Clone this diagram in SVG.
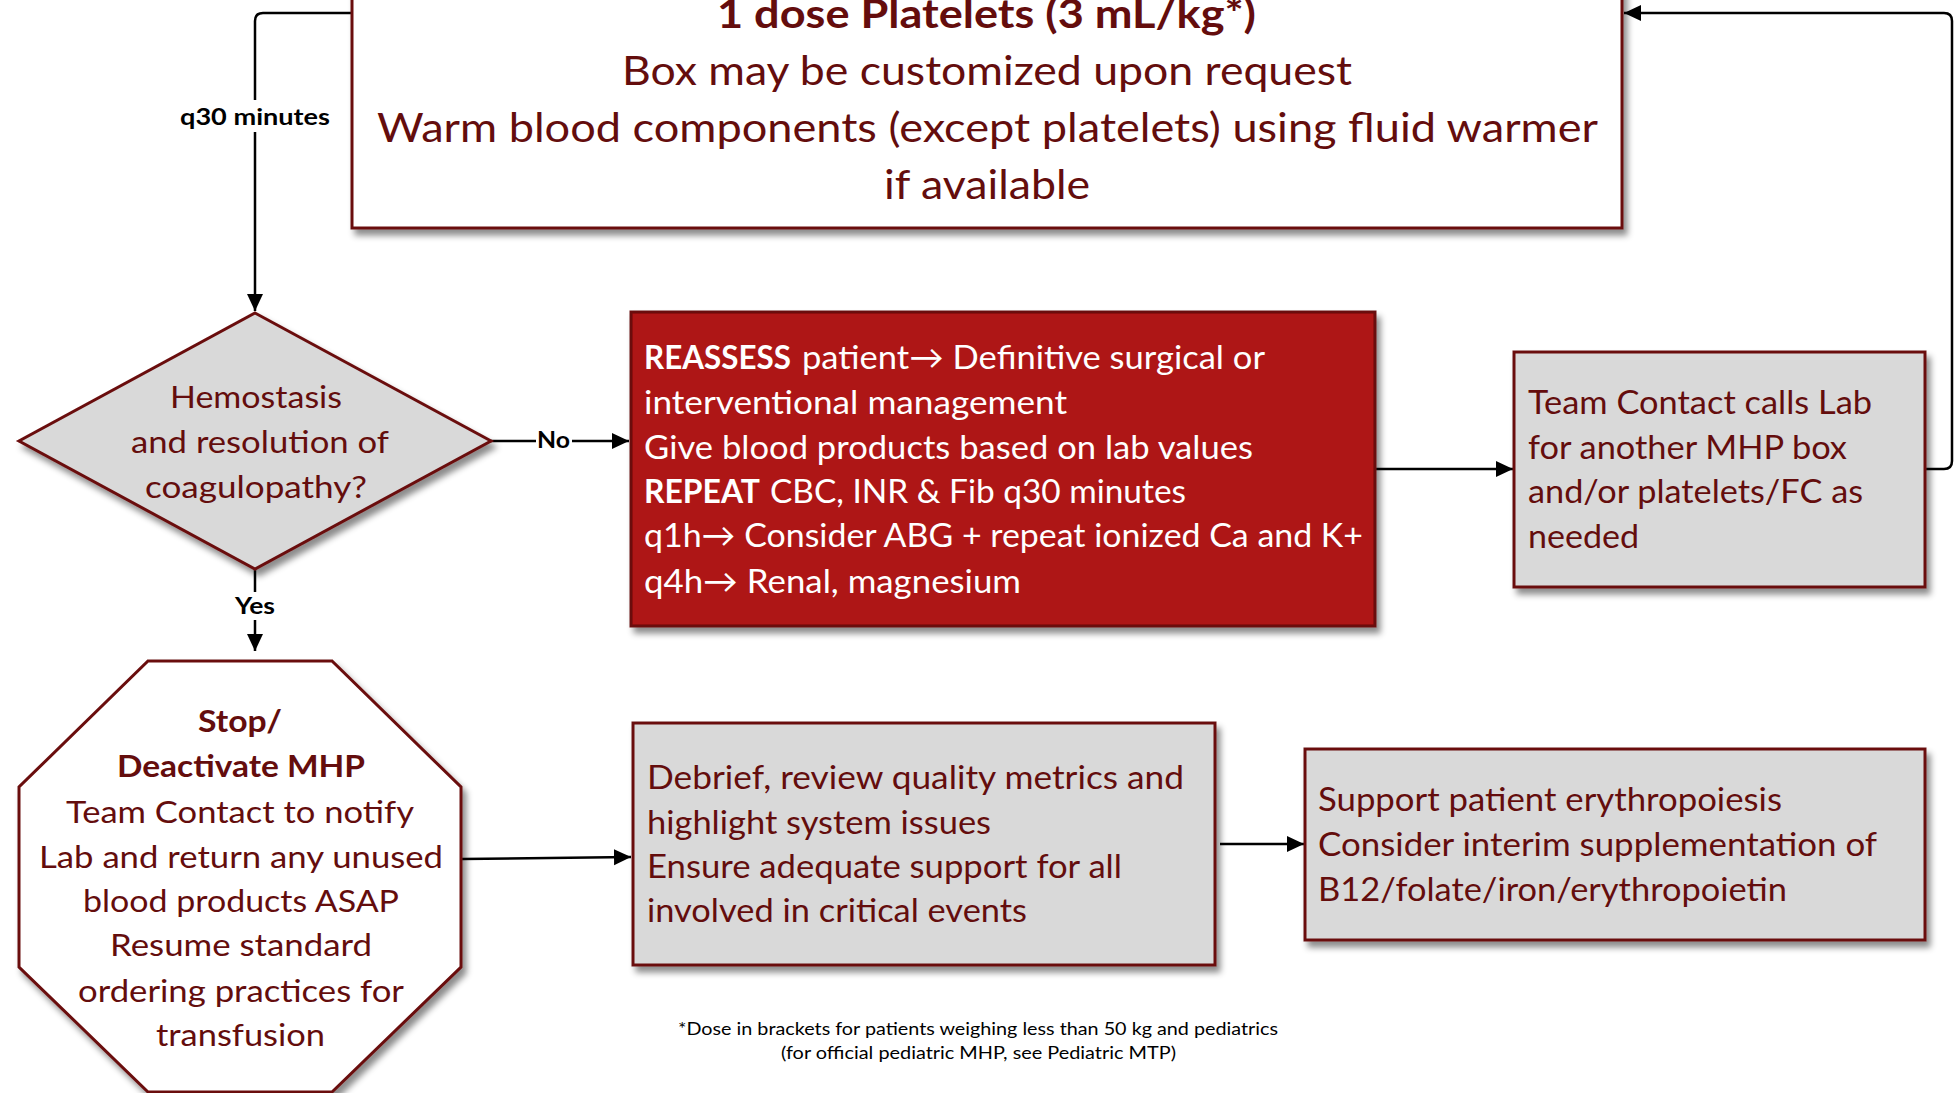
<svg xmlns="http://www.w3.org/2000/svg" width="1958" height="1093" viewBox="0 0 1958 1093">
<style>
.bx{stroke:#6a0f0f;stroke-width:3}
.t{font-family:Lato,"Open Sans","Liberation Sans",sans-serif;fill:#640d0d;font-size:33px}
.tt{font-size:40px}
.td{font-size:31px}
.w{fill:#ffffff}
.b{font-weight:bold}
.lbl{font-family:Lato,"Open Sans","Liberation Sans",sans-serif;font-weight:bold;fill:#000;font-size:23px}
.fn{font-family:Lato,"Open Sans","Liberation Sans",sans-serif;fill:#000;font-size:17px}
.c{fill:none;stroke:#000;stroke-width:2.5}
</style>
<defs>
<filter id="sh" x="-10%" y="-10%" width="130%" height="130%">
<feDropShadow dx="4" dy="6" stdDeviation="3" flood-color="#000" flood-opacity="0.45"/>
</filter>
<marker id="ah" markerUnits="userSpaceOnUse" markerWidth="18" markerHeight="18" refX="17" refY="8" orient="auto">
<path d="M0,0 L17,8 L0,16 z" fill="#000"/>
</marker>
</defs>
<rect width="1958" height="1093" fill="#fff"/>

<g id="connectors">
<path class="c" d="M352,13 H263 Q255,13 255,21 V311" marker-end="url(#ah)"/>
<path class="c" d="M491,441 H629" marker-end="url(#ah)"/>
<path class="c" d="M255,569 V651" marker-end="url(#ah)"/>
<path class="c" d="M1375,469 H1513" marker-end="url(#ah)"/>
<path class="c" d="M1925,469 H1944 Q1952,469 1952,461 V21 Q1952,13 1944,13 H1624" marker-end="url(#ah)"/>
<path class="c" d="M462,859 L631,857" marker-end="url(#ah)"/>
<path class="c" d="M1220,844 H1304" marker-end="url(#ah)"/>
<rect x="178" y="100" width="154" height="32" fill="#fff"/>
<text class="lbl" x="180" y="125" textLength="150" lengthAdjust="spacingAndGlyphs">q30 minutes</text>
<rect x="536" y="428" width="36" height="26" fill="#fff"/>
<text class="lbl" x="537" y="448" textLength="33" lengthAdjust="spacingAndGlyphs">No</text>
<rect x="233" y="592" width="44" height="28" fill="#fff"/>
<text class="lbl" x="235" y="614" textLength="40" lengthAdjust="spacingAndGlyphs">Yes</text>
</g>

<g id="node-top">
<rect class="bx" x="352" y="-40" width="1270" height="268" fill="#fff" filter="url(#sh)"/>
<text class="t tt b" x="717" y="28" textLength="539" lengthAdjust="spacingAndGlyphs">1 dose Platelets (3 mL/kg*)</text>
<text class="t tt" x="622" y="85" textLength="730" lengthAdjust="spacingAndGlyphs">Box may be customized upon request</text>
<text class="t tt" x="377" y="142" textLength="1221" lengthAdjust="spacingAndGlyphs">Warm blood components (except platelets) using fluid warmer</text>
<text class="t tt" x="884" y="199" textLength="206" lengthAdjust="spacingAndGlyphs">if available</text>
</g>

<g id="node-decision">
<polygon class="bx" points="255,313 491,441 255,569 19,441" fill="#d9d9d9" filter="url(#sh)"/>
<text class="t td" x="170" y="408" textLength="172" lengthAdjust="spacingAndGlyphs">Hemostasis</text>
<text class="t td" x="131" y="453" textLength="258" lengthAdjust="spacingAndGlyphs">and resolution of</text>
<text class="t td" x="145" y="498" textLength="222" lengthAdjust="spacingAndGlyphs">coagulopathy?</text>
</g>

<g id="node-reassess">
<rect class="bx" x="631" y="312" width="744" height="314" fill="#ae1515" filter="url(#sh)"/>
<text class="t w b" x="644" y="369" textLength="147" lengthAdjust="spacingAndGlyphs">REASSESS</text>
<text class="t w" x="802" y="369" textLength="463" lengthAdjust="spacingAndGlyphs">patient→ Definitive surgical or</text>
<text class="t w" x="644" y="414" textLength="423" lengthAdjust="spacingAndGlyphs">interventional management</text>
<text class="t w" x="644" y="459" textLength="609" lengthAdjust="spacingAndGlyphs">Give blood products based on lab values</text>
<text class="t w b" x="644" y="503" textLength="116" lengthAdjust="spacingAndGlyphs">REPEAT</text>
<text class="t w" x="770" y="503" textLength="416" lengthAdjust="spacingAndGlyphs">CBC, INR &amp; Fib q30 minutes</text>
<text class="t w" x="644" y="547" textLength="719" lengthAdjust="spacingAndGlyphs">q1h→ Consider ABG + repeat ionized Ca and K+</text>
<text class="t w" x="644" y="593" textLength="377" lengthAdjust="spacingAndGlyphs">q4h→ Renal, magnesium</text>
</g>

<g id="node-teamcontact">
<rect class="bx" x="1514" y="352" width="411" height="235" fill="#d9d9d9" filter="url(#sh)"/>
<text class="t" x="1528" y="414" textLength="344" lengthAdjust="spacingAndGlyphs">Team Contact calls Lab</text>
<text class="t" x="1528" y="459" textLength="319" lengthAdjust="spacingAndGlyphs">for another MHP box</text>
<text class="t" x="1528" y="503" textLength="335" lengthAdjust="spacingAndGlyphs">and/or platelets/FC as</text>
<text class="t" x="1528" y="548" textLength="111" lengthAdjust="spacingAndGlyphs">needed</text>
</g>

<g id="node-stop">
<polygon class="bx" points="148,661 332,661 461,787 461,967 332,1092 148,1092 19,967 19,787" fill="#fff" filter="url(#sh)"/>
<text class="t td b" x="198" y="732" textLength="84" lengthAdjust="spacingAndGlyphs">Stop/</text>
<text class="t td b" x="117" y="777" textLength="248" lengthAdjust="spacingAndGlyphs">Deactivate MHP</text>
<text class="t td" x="66" y="823" textLength="348" lengthAdjust="spacingAndGlyphs">Team Contact to notify</text>
<text class="t td" x="39" y="868" textLength="404" lengthAdjust="spacingAndGlyphs">Lab and return any unused</text>
<text class="t td" x="83" y="912" textLength="316" lengthAdjust="spacingAndGlyphs">blood products ASAP</text>
<text class="t td" x="110" y="956" textLength="262" lengthAdjust="spacingAndGlyphs">Resume standard</text>
<text class="t td" x="78" y="1002" textLength="326" lengthAdjust="spacingAndGlyphs">ordering practices for</text>
<text class="t td" x="156" y="1046" textLength="169" lengthAdjust="spacingAndGlyphs">transfusion</text>
</g>

<g id="node-debrief">
<rect class="bx" x="633" y="723" width="582" height="242" fill="#d9d9d9" filter="url(#sh)"/>
<text class="t" x="647" y="789" textLength="537" lengthAdjust="spacingAndGlyphs">Debrief, review quality metrics  and</text>
<text class="t" x="647" y="834" textLength="344" lengthAdjust="spacingAndGlyphs">highlight system issues</text>
<text class="t" x="647" y="878" textLength="475" lengthAdjust="spacingAndGlyphs">Ensure adequate support for all</text>
<text class="t" x="647" y="922" textLength="380" lengthAdjust="spacingAndGlyphs">involved in critical events</text>
</g>

<g id="node-support">
<rect class="bx" x="1305" y="749" width="620" height="191" fill="#d9d9d9" filter="url(#sh)"/>
<text class="t" x="1318" y="811" textLength="464" lengthAdjust="spacingAndGlyphs">Support patient erythropoiesis</text>
<text class="t" x="1318" y="856" textLength="559" lengthAdjust="spacingAndGlyphs">Consider interim supplementation of</text>
<text class="t" x="1318" y="901" textLength="469" lengthAdjust="spacingAndGlyphs">B12/folate/iron/erythropoietin</text>
</g>

<g id="footnote">
<text class="fn" x="678" y="1035" textLength="600" lengthAdjust="spacingAndGlyphs">*Dose in brackets for patients weighing less than 50 kg and pediatrics</text>
<text class="fn" x="781" y="1059" textLength="395" lengthAdjust="spacingAndGlyphs">(for official pediatric MHP, see Pediatric MTP)</text>
</g>
</svg>
